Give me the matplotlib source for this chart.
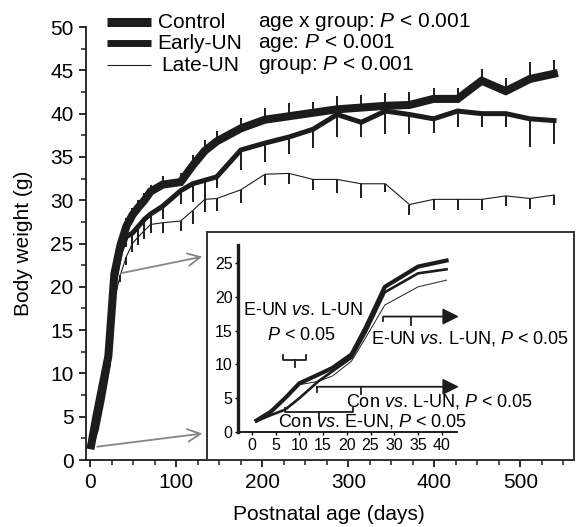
import numpy as np
import matplotlib
matplotlib.use('Agg')
from matplotlib import pyplot as plt, rcParams
from matplotlib.patches import Rectangle
from matplotlib.lines import Line2D

rcParams['font.family'] = ['Liberation Sans', 'DejaVu Sans']
rcParams['mathtext.fontset'] = 'custom'
rcParams['mathtext.it'] = 'Liberation Sans:italic'
rcParams['mathtext.rm'] = 'Liberation Sans'

# main chart: postnatal day vs body weight (g)
days = [1, 7, 14, 21, 28, 35, 42, 49, 56, 63, 70, 84, 105, 119, 133, 147,
        175, 203, 231, 259, 287, 315, 343, 371, 399, 427, 455, 483, 511, 539]
control = [1.7, 5.0, 8.5, 12.0, 21.5, 24.8, 27.0, 28.3, 29.2, 30.0, 31.0, 31.8,
           32.1, 34.0, 35.7, 36.8, 38.3, 39.3, 39.7, 40.1, 40.5, 40.7, 40.9,
           41.0, 41.7, 41.7, 43.8, 42.6, 44.0, 44.6]
early_un = [1.6, 3.5, 7.0, 11.0, 20.5, 24.0, 25.8, 26.2, 27.0, 27.8, 28.4, 29.3,
            31.1, 31.9, 32.3, 32.7, 35.8, 36.6, 37.3, 38.2, 39.9, 39.0, 40.3,
            39.9, 39.4, 40.3, 40.0, 40.0, 39.4, 39.2]
late_un = [1.6, 4.5, 7.5, 10.5, 18.5, 21.4, 23.5, 25.0, 25.8, 26.5, 27.2, 27.4,
           27.6, 28.8, 30.1, 30.2, 31.2, 33.0, 33.1, 32.4, 32.4, 31.9, 31.9,
           29.5, 30.1, 30.1, 30.1, 30.5, 30.2, 30.6]
control_err = [0.2, 0.3, 0.4, 0.5, 0.8, 1.0, 1.0, 0.8, 0.8, 0.8, 0.8, 1.0, 1.0,
               1.2, 1.2, 1.2, 1.2, 1.3, 1.5, 1.3, 1.5, 1.5, 1.5, 1.5, 1.3, 1.3,
               1.4, 1.5, 2.0, 1.6]
early_err = [0.2, 0.3, 0.4, 0.5, 0.8, 1.0, 1.2, 1.2, 1.3, 1.3, 1.3, 1.5, 1.5,
             2.1, 2.4, 1.3, 2.3, 2.2, 2.0, 2.2, 2.6, 1.7, 2.6, 2.3, 1.6, 1.8,
             1.5, 1.5, 3.2, 2.7]
late_err = [0.2, 0.3, 0.4, 0.5, 0.8, 0.8, 1.0, 1.0, 1.0, 1.0, 1.0, 1.2, 1.2,
            1.5, 1.5, 1.5, 1.5, 1.2, 1.2, 1.2, 1.6, 1.6, 1.0, 1.2, 1.2, 1.2,
            1.2, 1.2, 1.2, 1.2]

# inset: first six weeks
in_days = [1, 4, 7, 10, 14, 17, 21, 24, 28, 35, 41]
in_control = [1.7, 3.0, 5.0, 7.2, 8.5, 9.5, 11.5, 15.5, 21.5, 24.5, 25.4]
in_early = [1.6, 2.5, 3.3, 5.0, 7.5, 9.0, 11.0, 14.8, 20.7, 23.5, 24.1]
in_late = [1.6, 3.0, 5.0, 7.0, 7.5, 8.3, 10.5, 14.0, 18.8, 21.5, 22.5]

groups = ['Control', 'Early-UN', 'Late-UN']
stats = ['age x group: $P$ < 0.001', 'age: $P$ < 0.001', 'group: $P$ < 0.001']

ink = '#1c1c1c'
fs = 15
fig = plt.figure(figsize=(5.76, 5.27), dpi=100)
ax = fig.add_axes([0.1493, 0.1271, 0.8438, 0.8216])

d = np.array(days)
c, e, l = np.array(control), np.array(early_un), np.array(late_un)
ax.vlines(d, c, c + np.array(control_err), color=ink, lw=1.4, zorder=2)
ax.vlines(d, e - np.array(early_err), e, color=ink, lw=1.4, zorder=2)
ax.vlines(d, l - np.array(late_err), l, color=ink, lw=1.4, zorder=2)
ax.plot(d, l, color=ink, lw=0.8, zorder=3)
ax.plot(d, e, color=ink, lw=3.6, zorder=3, solid_joinstyle='miter')
ax.plot(d, c, color=ink, lw=5.8, zorder=4, solid_joinstyle='miter')

ax.set_xlim(-5, 560)
ax.set_ylim(0, 50)
ax.set_xticks(np.arange(0, 501, 100))
ax.set_xticks(np.arange(0, 551, 25), minor=True)
ax.set_yticks(np.arange(0, 51, 5))
ax.set_yticks(np.arange(0, 50.1, 2.5), minor=True)
for s in ['top', 'right']:
    ax.spines[s].set_visible(False)
for s in ['left', 'bottom']:
    ax.spines[s].set_linewidth(1.3)
    ax.spines[s].set_color(ink)
ax.tick_params(which='major', direction='out', length=5, width=1.3,
               labelsize=fs, color=ink, pad=4)
ax.tick_params(which='minor', direction='out', length=3.5, width=1.1, color=ink)
ax.set_xlabel('Postnatal age (days)', fontsize=fs, labelpad=10)
ax.set_ylabel('Body weight (g)', fontsize=fs, labelpad=12)

# legend drawn by hand
leg_y = [0.958, 0.918, 0.876]
leg_w = [6.5, 5.0, 0.8]
leg_x = [158, 157, 161]
for yy, ww, xx, g, st in zip(leg_y, leg_w, leg_x, groups, stats):
    fig.add_artist(Line2D([107 / 576, 151 / 576], [yy, yy], color=ink, lw=ww,
                          solid_capstyle='butt'))
    fig.text(xx / 576, yy, g, fontsize=fs, va='center', ha='left')
    fig.text(258 / 576, yy, st, fontsize=fs, va='center', ha='left')

# inset frame
fig.add_artist(Rectangle((207 / 576, 0.1271), 367 / 576, 0.4326,
                         transform=fig.transFigure, facecolor='white',
                         edgecolor='#333333', lw=1.4, zorder=1))

# grey arrows to inset
arrow_kw = dict(arrowstyle='->,head_length=0.9,head_width=0.45', color='#858585', lw=1.3)
ax.annotate('', xy=(205 / 576, 0.514), xycoords='figure fraction',
            xytext=(32, 21.5), textcoords='data', arrowprops=arrow_kw,
            annotation_clip=False, zorder=5)
ax.annotate('', xy=(205 / 576, 0.178), xycoords='figure fraction',
            xytext=(5, 1.5), textcoords='data', arrowprops=arrow_kw,
            annotation_clip=False, zorder=5)

ins = fig.add_axes([0.4132, 0.1803, 0.3802, 0.3548], zorder=2)
ins.set_facecolor('none')
ins.plot(in_days, in_late, color=ink, lw=0.7)
ins.plot(in_days, in_early, color=ink, lw=1.9)
ins.plot(in_days, in_control, color=ink, lw=3.0)
ins.set_xlim(-2.9, 43.2)
ins.set_ylim(0, 27.7)
ins.set_xticks(np.arange(0, 41, 5))
ins.set_yticks(np.arange(0, 26, 5))
for s in ['top', 'right']:
    ins.spines[s].set_visible(False)
ins.spines['left'].set_linewidth(2.4)
ins.spines['bottom'].set_linewidth(1.4)
ins.spines['left'].set_color(ink)
ins.spines['bottom'].set_color(ink)
ins.tick_params(direction='out', length=2, width=1, labelsize=11.5, pad=2)

# significance marks in the inset
blk = dict(color=ink, lw=1.3, clip_on=False)
ins.plot([6.5, 6.5, 11.5, 11.5], [11.4, 10.6, 10.6, 11.4], **blk)
ins.plot([9.0, 9.0], [10.6, 9.6], **blk)
ins.plot([6.9, 6.9, 21.3, 21.3], [3.6, 3.0, 3.0, 3.6], **blk)
ins.plot([14.1, 14.1], [3.0, 2.2], **blk)
ins.plot([27.7, 27.7], [17.1, 16.4], **blk)
ins.plot([33.6, 33.6], [17.1, 15.9], **blk)
ins.plot([13.7, 13.7], [6.7, 5.9], **blk)
ins.plot([22.9, 22.9], [6.7, 5.6], **blk)
head = dict(arrowstyle='-|>,head_length=0.7,head_width=0.35', color=ink, lw=1.3,
            mutation_scale=14, shrinkA=0, shrinkB=0)
ins.annotate('', xy=(43.6, 17.1), xytext=(27.7, 17.1), arrowprops=head,
             annotation_clip=False)
ins.annotate('', xy=(43.6, 6.7), xytext=(13.7, 6.7), arrowprops=head,
             annotation_clip=False)

ins.text(10.7, 18.0, 'E-UN $vs$. L-UN', fontsize=13, ha='center', va='center')
ins.text(10.4, 14.3, '$P$ < 0.05', fontsize=13, ha='center', va='center')
ins.text(46.0, 13.9, 'E-UN $vs$. L-UN, $P$ < 0.05', fontsize=13,
         ha='center', va='center', clip_on=False)
ins.text(39.4, 4.45, 'Con $vs$. L-UN, $P$ < 0.05', fontsize=13,
         ha='center', va='center', clip_on=False)
ins.text(25.3, 1.5, 'Con $vs$. E-UN, $P$ < 0.05', fontsize=13,
         ha='center', va='center', clip_on=False)

fig.savefig('out.png', dpi=100)
